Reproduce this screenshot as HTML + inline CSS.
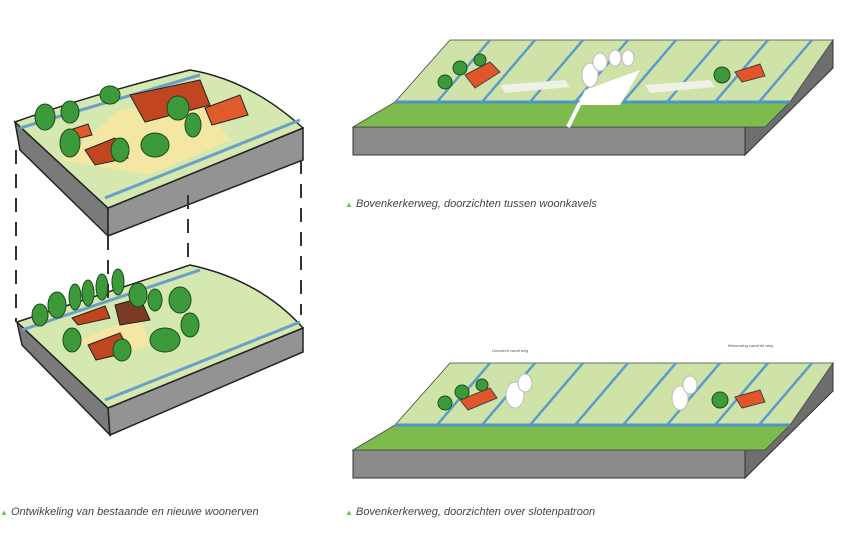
<!DOCTYPE html>
<html><head><meta charset="utf-8"><style>
html,body{margin:0;padding:0;background:#fff;}
svg{display:block}
text{font-family:"Liberation Sans",sans-serif;font-style:italic;}
</style></head><body>
<svg width="853" height="533" viewBox="0 0 853 533" xmlns="http://www.w3.org/2000/svg">
<defs>
<g id="blockR">
  <!-- grey front & side -->
  <polygon points="353,127 745,127 745,155 353,155" fill="#8a8a8a" stroke="#333" stroke-width="1"/>
  <polygon points="745,127 833,40 833,68 745,155" fill="#6e6e6e" stroke="#333" stroke-width="1"/>
  <!-- top back fields -->
  <polygon points="450,40 833,40 790,102 395,102" fill="#cfe3a9" stroke="#444" stroke-width="0.8"/>
  <!-- front strip -->
  <polygon points="395,102 790,102 765,127 353,127" fill="#7dbb4e" stroke="#444" stroke-width="0.8"/>
  <!-- ditch -->
  <line x1="395" y1="102" x2="790" y2="102" stroke="#4f93c9" stroke-width="3"/>
  <!-- diagonal ditches -->
  <g stroke="#5a9bc9" stroke-width="2.5">
    <line x1="490" y1="40" x2="437" y2="102"/>
    <line x1="535" y1="40" x2="482" y2="102"/>
    <line x1="583" y1="40" x2="530" y2="102"/>
    <line x1="628" y1="40" x2="575" y2="102"/>
    <line x1="676" y1="40" x2="623" y2="102"/>
    <line x1="720" y1="40" x2="667" y2="102"/>
    <line x1="768" y1="40" x2="715" y2="102"/>
    <line x1="812" y1="40" x2="759" y2="102"/>
  </g>
</g>
</defs>

<!-- TOP LEFT block -->
<polygon points="15,122 108,208 108,236 20,150" fill="#7a7a7a" stroke="#222" stroke-width="1.5"/>
<polygon points="108,208 303,128 303,160 108,236" fill="#939393" stroke="#222" stroke-width="1.5"/>
<path d="M15,122 Q90,95 190,70 Q250,80 303,128 L108,208 Z" fill="#d4e8b0" stroke="#222" stroke-width="1.5"/>
<line x1="20" y1="128" x2="200" y2="75" stroke="#6aa0c8" stroke-width="3"/>
<line x1="105" y1="198" x2="300" y2="120" stroke="#6aa0c8" stroke-width="3"/>
<path d="M60,160 L120,110 L200,100 L230,140 L150,175 Z" fill="#f3e7a3"/>
<polygon points="130,95 200,80 210,105 145,122" fill="#c0461f" stroke="#222"/>
<polygon points="205,108 240,95 248,115 212,125" fill="#e05a2b" stroke="#222"/>
<polygon points="85,150 115,138 128,158 95,165" fill="#c0461f" stroke="#222"/>
<polygon points="70,130 88,124 92,135 72,140" fill="#e05a2b" stroke="#222"/>
<g fill="#3d9a3a" stroke="#1d4a1c">
<ellipse cx="45" cy="117" rx="10" ry="13"/><ellipse cx="70" cy="112" rx="9" ry="11"/>
<ellipse cx="70" cy="143" rx="10" ry="14"/><ellipse cx="120" cy="150" rx="9" ry="12"/>
<ellipse cx="110" cy="95" rx="10" ry="9"/><ellipse cx="178" cy="108" rx="11" ry="12"/>
<ellipse cx="155" cy="145" rx="14" ry="12"/><ellipse cx="193" cy="125" rx="8" ry="12"/>
</g>

<!-- BOTTOM LEFT block -->
<polygon points="17,322 108,408 110,435 22,345" fill="#7a7a7a" stroke="#222" stroke-width="1.5"/>
<polygon points="108,408 303,328 303,352 110,435" fill="#939393" stroke="#222" stroke-width="1.5"/>
<path d="M17,322 Q100,295 190,265 Q260,280 303,328 L108,408 Z" fill="#d4e8b0" stroke="#222" stroke-width="1.5"/>
<line x1="22" y1="330" x2="200" y2="270" stroke="#6aa0c8" stroke-width="3"/>
<line x1="105" y1="400" x2="300" y2="322" stroke="#6aa0c8" stroke-width="3"/>
<path d="M80,340 L140,315 L150,345 L100,360 Z" fill="#f3e7a3"/>
<polygon points="72,318 105,306 110,318 78,325" fill="#c0461f" stroke="#222"/>
<polygon points="115,305 140,298 150,320 120,325" fill="#7a3a24" stroke="#222"/>
<polygon points="88,345 120,333 130,352 96,360" fill="#c0461f" stroke="#222"/>
<g fill="#3d9a3a" stroke="#1d4a1c">
<ellipse cx="40" cy="315" rx="8" ry="11"/><ellipse cx="57" cy="305" rx="9" ry="13"/>
<ellipse cx="75" cy="297" rx="6" ry="13"/><ellipse cx="88" cy="293" rx="6" ry="13"/>
<ellipse cx="102" cy="287" rx="6" ry="13"/><ellipse cx="118" cy="282" rx="6" ry="13"/>
<ellipse cx="138" cy="295" rx="9" ry="12"/><ellipse cx="155" cy="300" rx="7" ry="11"/>
<ellipse cx="180" cy="300" rx="11" ry="13"/><ellipse cx="190" cy="325" rx="9" ry="12"/>
<ellipse cx="165" cy="340" rx="15" ry="12"/><ellipse cx="72" cy="340" rx="9" ry="12"/>
<ellipse cx="122" cy="350" rx="9" ry="11"/>
</g>

<!-- dashed connectors -->
<g stroke="#333" stroke-width="2" stroke-dasharray="14,10">
<line x1="16" y1="150" x2="16" y2="322"/>
<line x1="108" y1="236" x2="108" y2="300"/>
<line x1="188" y1="195" x2="188" y2="265"/>
<line x1="301" y1="160" x2="301" y2="315"/>
</g>

<!-- TOP RIGHT -->
<use href="#blockR"/>
<polygon points="465,75 490,62 500,72 475,88" fill="#e2552a" stroke="#444"/>
<g fill="#3d9a3a" stroke="#1d4a1c"><circle cx="445" cy="82" r="7"/><circle cx="460" cy="68" r="7"/><circle cx="480" cy="60" r="6"/><circle cx="722" cy="75" r="8"/></g>
<polygon points="735,72 760,64 765,76 742,82" fill="#e2552a" stroke="#444"/>
<g fill="#fff" stroke="#bbb"><ellipse cx="590" cy="75" rx="8" ry="12"/><ellipse cx="600" cy="62" rx="7" ry="9"/><ellipse cx="615" cy="58" rx="6" ry="8"/><ellipse cx="628" cy="58" rx="6" ry="8"/></g>
<polygon points="585,90 640,70 620,105 578,105" fill="#fff"/>
<line x1="580" y1="103" x2="568" y2="127" stroke="#fff" stroke-width="4"/>
<polygon points="500,85 565,80 570,87 505,93" fill="#eef2e6"/>
<polygon points="645,85 710,80 715,87 650,93" fill="#eef2e6"/>

<!-- BOTTOM RIGHT -->
<use href="#blockR" transform="translate(0,323)" />
<polygon points="460,400 490,388 497,398 468,410" fill="#e2552a" stroke="#444"/>
<g fill="#3d9a3a" stroke="#1d4a1c"><circle cx="445" cy="403" r="7"/><circle cx="462" cy="392" r="7"/><circle cx="482" cy="385" r="6"/><circle cx="720" cy="400" r="8"/></g>
<polygon points="735,397 760,390 765,402 742,408" fill="#e2552a" stroke="#444"/>
<g fill="#fff" stroke="#bbb"><ellipse cx="515" cy="395" rx="9" ry="13"/><ellipse cx="525" cy="383" rx="7" ry="9"/><ellipse cx="680" cy="398" rx="8" ry="12"/><ellipse cx="690" cy="385" rx="7" ry="9"/></g>
<text x="492" y="352" font-size="4" fill="#555" font-style="normal">Doorzicht vanaf weg</text>
<text x="728" y="347" font-size="4" fill="#555" font-style="normal">Bebouwing vanaf de weg</text>

<!-- captions -->
<g font-size="11" fill="#444">
<text x="345" y="207"><tspan fill="#6cbf4e" font-style="normal" font-size="8">▲</tspan> Bovenkerkerweg, doorzichten tussen woonkavels</text>
<text x="0" y="515"><tspan fill="#6cbf4e" font-style="normal" font-size="8">▲</tspan> Ontwikkeling van bestaande en nieuwe woonerven</text>
<text x="345" y="515"><tspan fill="#6cbf4e" font-style="normal" font-size="8">▲</tspan> Bovenkerkerweg, doorzichten over slotenpatroon</text>
</g>
</svg>
</body></html>
